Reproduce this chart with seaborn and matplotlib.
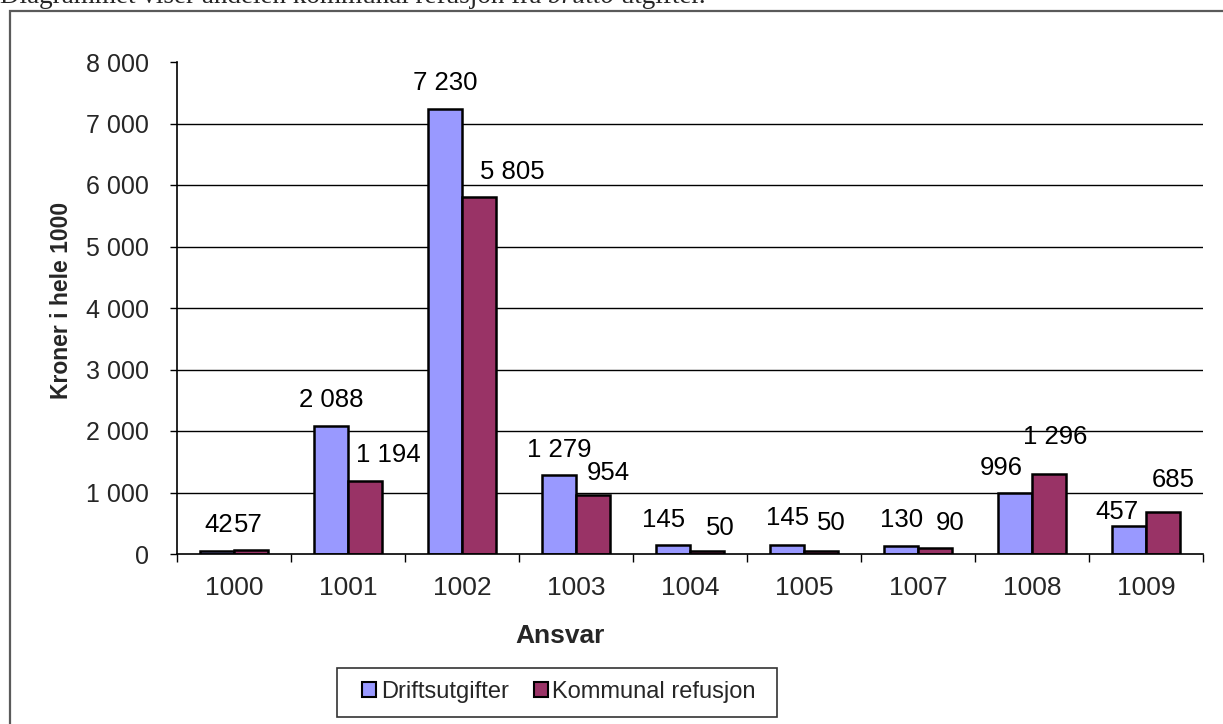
import matplotlib
matplotlib.use("Agg")
import matplotlib.pyplot as plt
import seaborn as sns
import pandas as pd
from matplotlib.patches import Patch, Rectangle
from matplotlib.ticker import FuncFormatter, FixedLocator

# ---- data ----
categories = ["1000", "1001", "1002", "1003", "1004", "1005", "1007", "1008", "1009"]
driftsutgifter = [42, 2088, 7230, 1279, 145, 145, 130, 996, 457]
kommunal_refusjon = [57, 1194, 5805, 954, 50, 50, 90, 1296, 685]
series_names = ["Driftsutgifter", "Kommunal refusjon"]
y_ticks = [0, 1000, 2000, 3000, 4000, 5000, 6000, 7000, 8000]

# label nudges (pixels) mimicking the reference's label placement
blue_dx = [2, 0, 0, 0, -10, 0, 0, -14, -12]
blue_dy = [26, 26, 26, 25, 25, 27, 26, 25, 14]
red_dx = [-3, 23, 33, 15, 13, 10, 15, 6, 10]
red_dy = [25, 26, 25, 22, 23, 28, 25, 37, 32]

BLUE = "#9999FF"
RED = "#993366"

sns.set_style("white")
plt.rcParams["font.family"] = ["Liberation Sans", "DejaVu Sans"]

W, H = 1223, 724
fig = plt.figure(figsize=(W / 100, H / 100), dpi=100)
fig.patch.set_facecolor("white")

# outer frame (cropped on the right and bottom)
fig.add_artist(Rectangle((10 / W, -0.2), 1.5, 1.2 - 11 / H, transform=fig.transFigure,
                         fill=False, edgecolor="#5a5a5a", linewidth=1.6))

ax = fig.add_axes([177 / W, (H - 554) / H, 1026 / W, 492 / H])

df = pd.DataFrame({
    "Ansvar": categories * 2,
    "value": driftsutgifter + kommunal_refusjon,
    "serie": [series_names[0]] * len(categories) + [series_names[1]] * len(categories),
})

sns.barplot(data=df, x="Ansvar", y="value", hue="serie", order=categories,
            hue_order=series_names, palette=[BLUE, RED], width=0.59,
            edgecolor="black", linewidth=1.8, saturation=1, ax=ax, legend=False,
            errorbar=None, zorder=3)

ax.set_ylim(0, 8000)
ax.set_xlim(-0.5, len(categories) - 0.5)
for t in y_ticks[1:-1]:
    ax.axhline(t, color="black", linewidth=1.0, zorder=1)

for s in ["top", "right"]:
    ax.spines[s].set_visible(False)
for s in ["left", "bottom"]:
    ax.spines[s].set_color("black")
    ax.spines[s].set_linewidth(1.2)
    ax.spines[s].set_zorder(4)

ax.yaxis.set_major_locator(FixedLocator(y_ticks))
ax.yaxis.set_major_formatter(FuncFormatter(lambda v, p: f"{int(v):,}".replace(",", " ")))
ax.tick_params(axis="y", direction="out", length=5, width=1, color="black",
               labelsize=18, pad=15, left=True)

# x ticks: marks at category boundaries, labels at centers
ax.set_xticks([i - 0.5 for i in range(len(categories) + 1)])
ax.set_xticklabels([])
ax.set_xticks(range(len(categories)), minor=True)
ax.set_xticklabels(categories, minor=True)
ax.tick_params(axis="x", which="major", direction="out", length=6, width=1,
               color="black", bottom=True)
ax.tick_params(axis="x", which="minor", length=0, labelsize=19, pad=16)
ax.set_xlabel("")
ax.set_ylabel("")

# value labels
px2pt = 72 / 100
for cont, vals, dxs, dys in [(ax.containers[0], driftsutgifter, blue_dx, blue_dy),
                             (ax.containers[1], kommunal_refusjon, red_dx, red_dy)]:
    for bar, v, dx, dy in zip(cont, vals, dxs, dys):
        xc = bar.get_x() + bar.get_width() / 2
        ax.annotate(f"{v:,}".replace(",", " "), (xc, bar.get_height()),
                    xytext=(dx * px2pt, dy * px2pt), textcoords="offset points",
                    ha="center", va="center", fontsize=18.5, color="black",
                    annotation_clip=False, zorder=5)

# axis titles
fig.text(62 / W, 1 - 300 / H, "Kroner i hele 1000", rotation=90, ha="center",
         va="center", fontsize=16.5, fontweight="bold")
fig.text(560 / W, 1 - 636 / H, "Ansvar", ha="center", va="center",
         fontsize=19, fontweight="bold")

# legend (frame drawn separately to match the reference box)
fig.add_artist(Rectangle((337 / W, 1 - 717 / H), 440 / W, 49 / H, transform=fig.transFigure,
                         fill=False, edgecolor="#333333", linewidth=1.2))
handles = [Patch(facecolor=BLUE, edgecolor="black", linewidth=1.5),
           Patch(facecolor=RED, edgecolor="black", linewidth=1.5)]
leg = fig.legend(handles, series_names, loc="center", bbox_to_anchor=(559 / W, 1 - 692 / H),
                 ncol=2, frameon=False, fontsize=17, handlelength=0.6, handleheight=0.6,
                 handletextpad=0.2, columnspacing=1.05, borderpad=0.3, borderaxespad=0)

# cropped caption at the very top
fig.canvas.draw()
renderer = fig.canvas.get_renderer()
x = 0.0
base_y = 1 - 3 / H
parts = [("Diagrammet viser andelen kommunal refusjon fra ", "normal"),
         ("brutto", "italic"), (" utgifter.", "normal")]
for txt, style in parts:
    t = fig.text(x, base_y, txt, ha="left", va="baseline", fontsize=19.5,
                 family=["Liberation Serif", "DejaVu Serif"], style=style)
    bb = t.get_window_extent(renderer)
    x = bb.x1 / W

fig.savefig("out.png", dpi=100)
